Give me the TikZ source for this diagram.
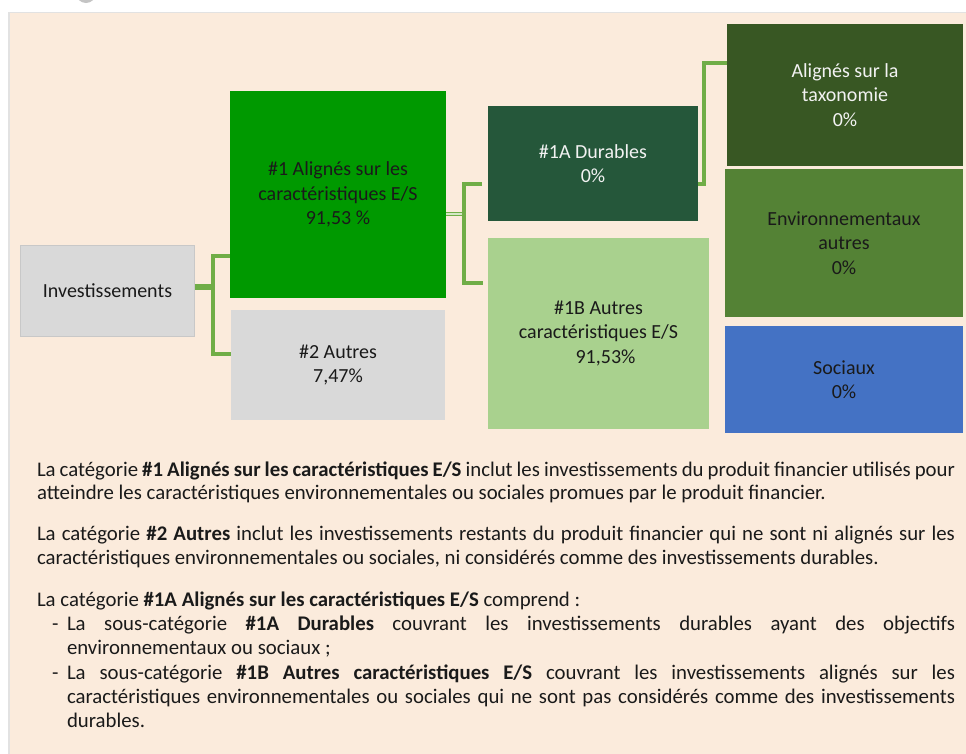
\documentclass[tikz,border=0pt]{standalone}
\usepackage{fontspec}
\setmainfont{Carlito}
\usetikzlibrary{calc}
\definecolor{panel}{HTML}{FBEBDC}
\definecolor{panelB}{HTML}{E2E2E2}
\definecolor{greyBox}{HTML}{D9D9D9}
\definecolor{greyB}{HTML}{C8C8C8}
\definecolor{greenA}{HTML}{009900}
\definecolor{greenDur}{HTML}{25573A}
\definecolor{greenLight}{HTML}{A9D18E}
\definecolor{greenTax}{HTML}{385723}
\definecolor{greenEnv}{HTML}{548235}
\definecolor{blueSoc}{HTML}{4472C4}
\definecolor{connG}{HTML}{70AD47}
\definecolor{connIn}{HTML}{D4E8C6}
\definecolor{txt}{HTML}{1A1A1A}
\definecolor{wtxt}{HTML}{F2F2F2}
\definecolor{circG}{HTML}{C4C4C4}
\begin{document}
\begin{tikzpicture}[x=1pt,y=-1pt,
  box/.style={rectangle, inner sep=0pt, outer sep=0pt, align=center,
    text=txt, font=\fontsize{20}{24.5}\selectfont},
  conn/.style={draw=connG, line width=3.4pt},
  thickstub/.style={draw=connG, line width=5.5pt},
  dblstub/.style={draw=connG, line width=1.8pt, double=connIn, double distance=1.3pt},
  body/.style={inner sep=0pt, outer sep=0pt, anchor=base west, text=txt,
    font=\fontsize{20.8}{24}\selectfont}]
\useasboundingbox (0,0) rectangle (966,753);
\fill[white] (0,0) rectangle (966,753);
\begin{scope}
  \clip (0,0) rectangle (966,753);
  \fill[circG] (86,-7) circle (10);
  \filldraw[fill=panel, draw=panelB, line width=1.5pt] (9,12.5) rectangle (980,765);
\end{scope}

% boxes
\node[box, fill=greyBox, draw=greyB, line width=1.2pt, minimum width=174pt, minimum height=91pt]
  (inv) at (107.5,291) {Investissements};
\node[box, fill=greenA, minimum width=216pt, minimum height=207pt]
  (a1) at (338,194.5) {\#1 Alignés sur les\\caractéristiques E/S\\91,53 \%};
\node[box, fill=greyBox, minimum width=214pt, minimum height=110pt]
  (a2) at (338,365) {\#2 Autres\\7,47\%};
\node[box, fill=greenDur, text=wtxt, minimum width=210pt, minimum height=115pt]
  (b1) at (593,163.5) {\#1A Durables\\0\%};
\node[box, fill=greenLight, minimum width=221pt, minimum height=191pt]
  (b2) at (598.5,333.5) {\#1B Autres\\caractéristiques E/S\\\hspace*{14pt}91,53\%};
\node[box, fill=greenTax, text=wtxt, minimum width=236pt, minimum height=142pt]
  (c1) at (845,95) {Alignés sur la\\taxonomie\\0\%};
\node[box, fill=greenEnv, minimum width=238pt, minimum height=148pt]
  (c2) at (844,243) {Environnementaux\\autres\\0\%};
\node[box, fill=blueSoc, minimum width=238pt, minimum height=107pt]
  (c3) at (844,379.5) {Sociaux\\0\%};

% connectors
\coordinate (jA) at (213,256);
\coordinate (jB) at (213,354);
\coordinate (jM) at (213,287);
\draw[thickstub] (jM -| inv.east) -- (jM);
\draw[conn] (jA -| a1.west) -- (jA) -- (jB) -- (jB -| a2.west);

\coordinate (kA) at (464,184);
\coordinate (kB) at (464,283);
\coordinate (kM) at (464,214);
\draw[dblstub] (kM -| a1.east) -- (kM);
\draw[conn] ($(kA -| b1.west)+(-6,0)$) -- (kA) -- (kB) -- ($(kB -| b2.west)+(-5,0)$);

\coordinate (mA) at (704,184);
\coordinate (mB) at (704,63);
\draw[conn] (mA -| b1.east) -- (mA) -- (mB) -- (mB -| c1.west);

% body text
\node[body] (t1) at (37,476) {\makebox[918pt][s]{La catégorie \textbf{\#1 Alignés sur les caractéristiques E/S} inclut les investissements du produit financier utilisés pour}};
\node[body] (t2) at (37,499) {atteindre les caractéristiques environnementales ou sociales promues par le produit financier.};
\node[body] (t3) at (37,540) {\makebox[918pt][s]{La catégorie \textbf{\#2 Autres} inclut les investissements restants du produit financier qui ne sont ni alignés sur les}};
\node[body] (t4) at (37,564) {caractéristiques environnementales ou sociales, ni considérés comme des investissements durables.};
\node[body] (t5) at (37,606) {La catégorie \textbf{\#1A Alignés sur les caractéristiques E/S} comprend :};
\node[body] (d1) at (52,630) {-};
\node[body] (t6) at (67,630) {\makebox[888pt][s]{La sous-catégorie \textbf{\#1A Durables} couvrant les investissements durables ayant des objectifs}};
\node[body] (t7) at (67,654) {environnementaux ou sociaux ;};
\node[body] (d2) at (52,679) {-};
\node[body] (t8) at (67,679) {\makebox[888pt][s]{La sous-catégorie \textbf{\#1B Autres caractéristiques E/S} couvrant les investissements alignés sur les}};
\node[body] (t9) at (67,703) {\makebox[888pt][s]{caractéristiques environnementales ou sociales qui ne sont pas considérés comme des investissements}};
\node[body] (t10) at (67,727) {durables.};
\end{tikzpicture}
\end{document}
